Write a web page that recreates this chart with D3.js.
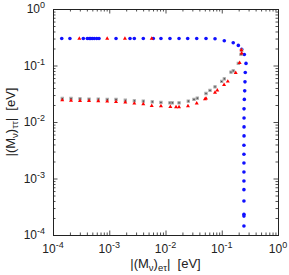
<!DOCTYPE html>
<html>
<head>
<meta charset="utf-8">
<script src="https://cdn.jsdelivr.net/npm/d3@7"></script>
<style>
  body { margin: 0; background: #fff; }
  svg { display: block; font-family: "Liberation Sans", Arial, sans-serif; }
  text { white-space: pre; }
</style>
</head>
<body>
<div id="plot"></div>
<script>
// upper branch (blue dots)
const blueSeries = [
  [1.43e-4, 0.30], [2.0e-4, 0.30], [3.46e-4, 0.30], [4.07e-4, 0.30], [4.42e-4, 0.30],
  [4.68e-4, 0.30], [5.0e-4, 0.30], [5.42e-4, 0.30], [5.98e-4, 0.30], [6.58e-4, 0.30],
  [1.32e-3, 0.30], [2.34e-3, 0.30], [2.79e-3, 0.30], [4.03e-3, 0.30], [6.07e-3, 0.30],
  [8.3e-3, 0.30], [1.2e-2, 0.30], [1.74e-2, 0.30], [2.48e-2, 0.30], [3.59e-2, 0.30],
  [5.25e-2, 0.30], [7.59e-2, 0.297], [0.111, 0.274], [0.160, 0.253], [0.197, 0.227],
  [0.226, 0.193], [0.252, 0.157], [0.270, 0.109], [0.262, 0.0754], [0.259, 0.0514],
  [0.256, 0.0356], [0.252, 0.0251], [0.249, 0.0171], [0.249, 0.0118], [0.249, 0.00819],
  [0.249, 0.00567], [0.248, 0.00388], [0.248, 0.00269], [0.248, 0.00188], [0.248, 0.0013],
  [0.248, 0.000903], [0.248, 0.000635], [0.248, 0.000399], [0.248, 0.000232],
  [0.248, 0.000216], [0.248, 0.000144]
];

// lower branch, dark grey markers
const blackSeries = [
  [1.46e-4, 0.0261], [2.09e-4, 0.0261], [3.02e-4, 0.0257], [4.37e-4, 0.0254], [6.38e-4, 0.0254],
  [9.2e-4, 0.0251], [1.32e-3, 0.0251], [1.93e-3, 0.0243], [2.79e-3, 0.0237], [4.03e-3, 0.0234],
  [5.82e-3, 0.0227], [8.3e-3, 0.0222], [0.012, 0.0218], [0.0132, 0.0218], [0.0174, 0.0218],
  [0.0254, 0.0234], [0.0321, 0.0251], [0.0367, 0.0264], [0.0525, 0.032], [0.0618, 0.0362],
  [0.0759, 0.0419], [0.0998, 0.0522], [0.111, 0.0581], [0.146, 0.0764], [0.160, 0.0805],
  [0.197, 0.109], [0.220, 0.157], [0.226, 0.1875]
];

// red triangles (both branches)
const redSeries = [
  [2.94e-4, 0.30], [9.2e-4, 0.30], [1.9e-3, 0.30], [5.69e-3, 0.30],
  [1.46e-4, 0.0243], [2.09e-4, 0.024], [3.02e-4, 0.0237], [4.37e-4, 0.0237], [6.38e-4, 0.0234],
  [9.2e-4, 0.0231], [1.32e-3, 0.0227], [1.93e-3, 0.0222], [2.79e-3, 0.0213], [4.03e-3, 0.0207],
  [5.69e-3, 0.0193], [8.3e-3, 0.0191], [0.0122, 0.0185], [0.0154, 0.0183], [0.0174, 0.0183],
  [0.0251, 0.0191], [0.0359, 0.0215], [0.0504, 0.0254], [0.0525, 0.0261], [0.0759, 0.0333],
  [0.0834, 0.0362], [0.110, 0.0455], [0.128, 0.0522], [0.177, 0.0742], [0.208, 0.1116],
  [0.226, 0.164], [0.223, 0.1875]
];

const majorTicks = [1e-4, 1e-3, 1e-2, 1e-1, 1];
const tickExponents = ["-4", "-3", "-2", "-1", "0"];

const width = 289;
const height = 275;
const margin = { top: 9, right: 11, bottom: 40, left: 53 };

const svg = d3.select("#plot")
  .append("svg")
  .attr("width", width)
  .attr("height", height);

const x = d3.scaleLog()
  .domain([1e-4, 1])
  .range([margin.left, width - margin.right]);

const y = d3.scaleLog()
  .domain([1e-4, 1])
  .range([height - margin.bottom, margin.top]);

// minor ticks 2..9 in every decade
const minorTicks = [];
majorTicks.slice(0, -1).forEach(m => {
  for (let k = 2; k <= 9; k++) minorTicks.push(m * k);
});

const majorLen = 4.5;
const minorLen = 2.5;

function drawAxis(axisFn, scale, transform) {
  svg.append("g")
    .attr("transform", transform)
    .call(axisFn(scale).tickValues(majorTicks).tickSize(-majorLen).tickFormat(""));
  svg.append("g")
    .attr("transform", transform)
    .call(axisFn(scale).tickValues(minorTicks).tickSize(-minorLen).tickFormat(""));
}

drawAxis(d3.axisBottom, x, `translate(0,${height - margin.bottom})`);
drawAxis(d3.axisTop, x, `translate(0,${margin.top})`);
drawAxis(d3.axisLeft, y, `translate(${margin.left},0)`);
drawAxis(d3.axisRight, y, `translate(${width - margin.right},0)`);

svg.selectAll(".domain").attr("stroke", "#222").attr("stroke-width", 1);
svg.selectAll(".tick line").attr("stroke", "#222").attr("stroke-width", 0.8);

// tick labels with superscript exponents
const xLabels = svg.append("g")
  .selectAll("text")
  .data(majorTicks)
  .enter()
  .append("text")
  .attr("x", d => x(d))
  .attr("y", height - margin.bottom + 17.5)
  .attr("text-anchor", "middle")
  .attr("font-size", 12)
  .attr("fill", "#222");
xLabels.append("tspan").text("10");
xLabels.append("tspan")
  .attr("dy", -5)
  .attr("font-size", 9)
  .text((d, i) => tickExponents[i]);

const yLabels = svg.append("g")
  .selectAll("text")
  .data(majorTicks)
  .enter()
  .append("text")
  .attr("x", margin.left - 8)
  .attr("y", d => y(d) + 4)
  .attr("text-anchor", "end")
  .attr("font-size", 12)
  .attr("fill", "#222");
yLabels.append("tspan").text("10");
yLabels.append("tspan")
  .attr("dy", -5)
  .attr("font-size", 9)
  .text((d, i) => tickExponents[i]);

// axis titles
function titleText(sel, sub) {
  sel.append("tspan").text("|(M");
  sel.append("tspan").attr("dy", 3).attr("font-size", 9.5).text("ν");
  sel.append("tspan").attr("dy", -3).text(")");
  sel.append("tspan").attr("dy", 3).attr("font-size", 9.5).text(sub);
  sel.append("tspan").attr("dy", -3).text("|  [eV]");
}

const xTitle = svg.append("text")
  .attr("x", (margin.left + width - margin.right) / 2)
  .attr("y", height - 7)
  .attr("text-anchor", "middle")
  .attr("font-size", 13)
  .attr("fill", "#222");
titleText(xTitle, "eτ");

const yTitle = svg.append("text")
  .attr("transform", `translate(15,${(margin.top + height - margin.bottom) / 2}) rotate(-90)`)
  .attr("text-anchor", "middle")
  .attr("font-size", 13)
  .attr("fill", "#222");
titleText(yTitle, "ττ");

// points
svg.append("g")
  .selectAll("circle")
  .data(blueSeries)
  .enter()
  .append("circle")
  .attr("cx", d => x(d[0]))
  .attr("cy", d => y(d[1]))
  .attr("r", 1.8)
  .attr("fill", "#1010ff");

svg.append("g")
  .selectAll("path")
  .data(blackSeries)
  .enter()
  .append("path")
  .attr("transform", d => `translate(${x(d[0])},${y(d[1])})`)
  .attr("d", d3.symbol(d3.symbolSquare, 5)())
  .attr("fill", "#333")
  .attr("stroke", "#aaa")
  .attr("stroke-width", 1.1);

svg.append("g")
  .selectAll("path")
  .data(redSeries)
  .enter()
  .append("path")
  .attr("transform", d => `translate(${x(d[0])},${y(d[1])})`)
  .attr("d", d3.symbol(d3.symbolTriangle, 7)())
  .attr("fill", "#ff0000");
</script>
</body>
</html>
